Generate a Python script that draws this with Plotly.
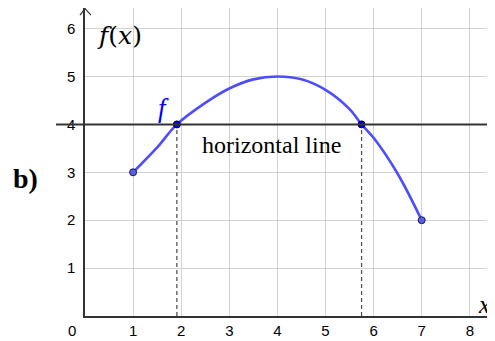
import plotly.graph_objects as go

# Curve f
curve_x = [1, 1.5, 1.91, 2.5, 3, 3.5, 4, 4.5, 5, 5.5, 5.75, 6, 6.5, 7]
curve_y = [3, 3.52, 4, 4.45, 4.75, 4.94, 5, 4.94, 4.72, 4.32, 4, 3.72, 2.97, 2]

end_x = [1, 7]
end_y = [3, 2]
cross_x = [1.91, 5.75]
cross_y = [4, 4]
h_level = 4

x_ticks = [1, 2, 3, 4, 5, 6, 7, 8]
y_ticks = [1, 2, 3, 4, 5, 6]

BLUE = "#4d4dff"
DARK = "#333333"
GRID = "#d3d3d3"
SERIF = "Liberation Serif, DejaVu Serif"
MATH = "DejaVu Serif, Liberation Serif"
SANS = "Liberation Sans, Arial"

fig = go.Figure()

# dashed drop lines
for cx, cy in zip(cross_x, cross_y):
    fig.add_trace(go.Scatter(x=[cx, cx], y=[0, cy], mode="lines",
                             line=dict(color="#555555", width=1.3, dash="4px,3px"),
                             hoverinfo="skip", showlegend=False))

fig.add_trace(go.Scatter(x=curve_x, y=curve_y, mode="lines",
                         line=dict(color=BLUE, width=2.6, shape="spline", smoothing=1.0),
                         showlegend=False))

fig.add_trace(go.Scatter(x=end_x, y=end_y, mode="markers",
                         marker=dict(size=7, color="#5c5cf0", line=dict(color="#1a1a4a", width=1)),
                         showlegend=False))
fig.add_trace(go.Scatter(x=cross_x, y=cross_y, mode="markers",
                         marker=dict(size=7, color="#0000ee", line=dict(color="#000000", width=1)),
                         showlegend=False))

# horizontal line
fig.add_shape(type="line", xref="paper", yref="y", x0=-0.0707, x1=1, y0=h_level, y1=h_level,
              line=dict(color=DARK, width=2), layer="above")

# y-axis arrow head
fig.add_shape(type="path", xref="paper", yref="paper",
              path="M -0.0122,0.977 L 0,0.998 L 0.0146,0.977",
              line=dict(color=DARK, width=1.2))

fig.update_layout(
    width=495, height=341,
    margin=dict(l=77, r=8, t=0, b=33, autoexpand=False),
    paper_bgcolor="white", plot_bgcolor="white",
    xaxis=dict(range=[0, 410 / 48.1], tickvals=x_ticks, showgrid=True, gridcolor=GRID, gridwidth=1,
               zeroline=False, showline=True, linecolor=DARK, linewidth=1.5,
               ticks="", ticklabelstandoff=0, automargin=False,
               tickfont=dict(family=SANS, size=15, color="black")),
    yaxis=dict(range=[0, 308 / 47.9], tickvals=y_ticks, showgrid=True, gridcolor=GRID, gridwidth=1,
               zeroline=False, showline=True, linecolor=DARK, linewidth=1.5,
               ticks="", ticklabelstandoff=5, automargin=False,
               tickfont=dict(family=SANS, size=15, color="black")),
    annotations=[
        dict(text="0", xref="paper", yref="paper", x=-0.0317, y=-0.0455, showarrow=False,
             xanchor="center", yanchor="middle",
             font=dict(family=SANS, size=15, color="black")),
        dict(text="<b>b)</b>", xref="paper", yref="paper", x=-0.146, y=0.445, showarrow=False,
             xanchor="center", yanchor="middle",
             font=dict(family=SERIF, size=28, color="black")),
        dict(text="<i>f</i>(<i>x</i>)", x=0.71, y=5.85, showarrow=False,
             xanchor="center", yanchor="middle",
             font=dict(family=MATH, size=25, color="black")),
        dict(text="<i>f</i>", x=1.64, y=4.34, showarrow=False,
             xanchor="center", yanchor="middle",
             font=dict(family=SERIF, size=27, color="#0000ff")),
        dict(text="horizontal line", x=3.87, y=3.57, showarrow=False,
             xanchor="center", yanchor="middle",
             font=dict(family=SERIF, size=24, color="black")),
        dict(text="<i>x</i>", x=8.30, y=0.25, showarrow=False,
             xanchor="center", yanchor="middle",
             font=dict(family=SERIF, size=25, color="black")),
    ],
)

fig.write_html("out.html")
